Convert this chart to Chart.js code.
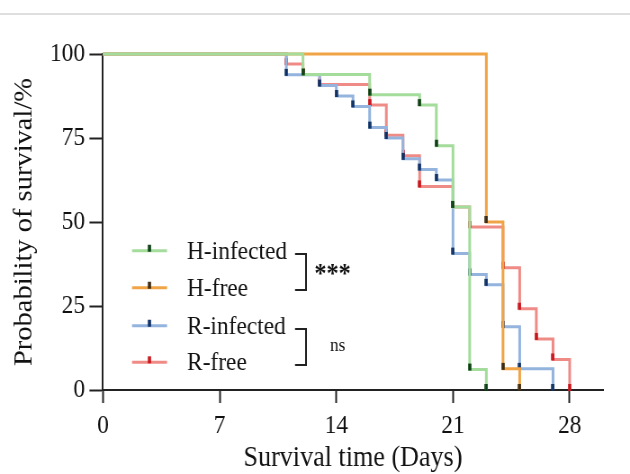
<!DOCTYPE html>
<html><head><meta charset="utf-8">
<script src="https://cdn.jsdelivr.net/npm/chart.js@4"></script>
<style>
html,body{margin:0;padding:0;overflow:hidden;background:#fff;width:630px;height:474px}
#wrap{position:absolute;left:0;top:0;width:700px;height:474px;transform:scaleX(0.9);transform-origin:0 0}
</style></head><body><div id="wrap"><canvas id="c"></canvas></div>
<script>
// ---- data ----
const xTickValues = [0, 7, 14, 21, 28];
const yTickValues = [0, 25, 50, 75, 100];
const seriesNames = ['H-infected', 'H-free', 'R-infected', 'R-free'];

const hInfectedDays     = [0, 12, 16, 19, 20, 21, 22, 23];
const hInfectedSurvival = [100, 93.9, 87.9, 84.8, 72.7, 54.5, 6.1, 0];

const hFreeDays     = [0, 23, 24, 25];
const hFreeSurvival = [100, 50, 6.3, 0];

const rInfectedDays     = [0, 11, 13, 14, 15, 16, 17, 18, 19, 20, 21, 22, 23, 24, 25, 27];
const rInfectedSurvival = [100, 93.8, 90.6, 87.5, 84.4, 78.1, 75, 68.8, 65.6, 62.5, 40.6, 34.4, 31.3, 18.8, 6.3, 0];

const rFreeDays     = [0, 11, 12, 13, 16, 17, 18, 19, 21, 22, 24, 25, 26, 27, 28];
const rFreeSurvival = [100, 97, 93.9, 90.9, 84.8, 75.8, 69.7, 60.6, 54.5, 48.5, 36.4, 24.2, 15.2, 9.1, 0];

const significance = ['***', 'ns'];

// ---- styles ----
const FONT = '"Liberation Serif", "Times New Roman", serif';
const lineColors = ['#a4dc9c', '#f0a446', '#94b4de', '#ef8b86'];
const markColors = ['#0b3d12', '#3b2a12', '#0e2f63', '#c8151b'];
const allDays = [hInfectedDays, hFreeDays, rInfectedDays, rFreeDays];
const allSurv = [hInfectedSurvival, hFreeSurvival, rInfectedSurvival, rFreeSurvival];

function makeMark(color) {
  const c = document.createElement('canvas');
  c.width = 4; c.height = 14;
  const g = c.getContext('2d');
  g.fillStyle = color;
  g.fillRect(0.25, 1, 3.5, 7);
  return c;
}
const markImgs = markColors.map(makeMark);

const datasets = [];
for (let i = 0; i < 4; i++) {
  const d = allDays[i], s = allSurv[i];
  datasets.push({
    label: seriesNames[i] + ' censor',
    data: d.slice(1).map((x, k) => ({x: x, y: s[k + 1]})),
    showLine: false, pointStyle: markImgs[i], pointRadius: 4, pointHoverRadius: 4,
    order: 2 * i, clip: false
  });
  datasets.push({
    label: seriesNames[i],
    data: d.map((x, k) => ({x: x, y: s[k]})),
    stepped: true, borderColor: lineColors[i], borderWidth: 3, pointRadius: 0,
    fill: false, borderJoinStyle: 'miter', borderCapStyle: 'butt',
    order: 2 * i + 1, clip: false
  });
}

const deco = {
  id: 'deco',
  afterDraw(chart) {
    const ctx = chart.ctx;
    ctx.save();
    // top separator line
    ctx.strokeStyle = '#dedede'; ctx.lineWidth = 2;
    ctx.beginPath(); ctx.moveTo(0, 14); ctx.lineTo(chart.width, 14); ctx.stroke();
    // legend
    const rows = [250.7, 287.7, 325.7, 362.3];
    for (let i = 0; i < 4; i++) {
      const y = rows[i];
      ctx.strokeStyle = lineColors[i]; ctx.lineWidth = 3; ctx.lineCap = 'butt';
      ctx.beginPath(); ctx.moveTo(146.7, y); ctx.lineTo(185.6, y); ctx.stroke();
      ctx.drawImage(markImgs[i], 166.2 - 2, y - 7);
      ctx.fillStyle = '#111';
      ctx.font = '26px ' + FONT;
      ctx.textAlign = 'left'; ctx.textBaseline = 'alphabetic';
      ctx.fillText(seriesNames[i], 207.8, y + 7.8);
    }
    // brackets
    ctx.strokeStyle = '#222'; ctx.lineWidth = 2; ctx.lineCap = 'butt'; ctx.lineJoin = 'miter';
    [[254, 290], [329, 365]].forEach(([a, b]) => {
      ctx.beginPath(); ctx.moveTo(327.8, a); ctx.lineTo(340, a); ctx.lineTo(340, b); ctx.lineTo(327.8, b); ctx.stroke();
    });
    ctx.fillStyle = '#111';
    ctx.font = 'bold 27px ' + FONT;
    ctx.fillText(significance[0], 349.2, 282);
    ctx.font = '19px ' + FONT;
    ctx.fillText(significance[1], 366.7, 351);
    ctx.restore();
  }
};

new Chart(document.getElementById('c'), {
  type: 'line',
  data: {datasets: datasets},
  options: {
    responsive: true, maintainAspectRatio: false, animation: false, events: [],
    layout: {padding: {top: 54, right: 30, left: 0, bottom: 0}},
    plugins: {legend: {display: false}, tooltip: {enabled: false}, title: {display: false}},
    scales: {
      x: {
        type: 'linear', min: 0, max: 30,
        afterBuildTicks: s => { s.ticks = xTickValues.map(v => ({value: v})); },
        afterFit: s => { s.height = 84; },
        grid: {drawOnChartArea: false, drawTicks: true, tickLength: 13, tickWidth: 2, tickColor: '#222'},
        border: {display: true, color: '#222', width: 2},
        ticks: {color: '#111', font: {family: FONT, size: 26}, padding: 8, maxRotation: 0, autoSkip: false},
        title: {display: true, text: 'Survival time (Days)', color: '#111', font: {family: FONT, size: 29, lineHeight: 1.1}, padding: 0}
      },
      y: {
        type: 'linear', min: 0, max: 100,
        afterBuildTicks: s => { s.ticks = yTickValues.map(v => ({value: v})); },
        afterFit: s => { s.width = 114.4; },
        grid: {drawOnChartArea: false, drawTicks: true, tickLength: 15, tickWidth: 2, tickColor: '#222'},
        border: {display: true, color: '#222', width: 2},
        ticks: {color: '#111', font: {family: FONT, size: 26}, padding: 5, autoSkip: false},
        title: {display: true, text: 'Probability of survival/%', color: '#111', font: {family: FONT, size: 28.5}, padding: {top: 10, bottom: 0}}
      }
    }
  },
  plugins: [deco]
});
</script></body></html>
